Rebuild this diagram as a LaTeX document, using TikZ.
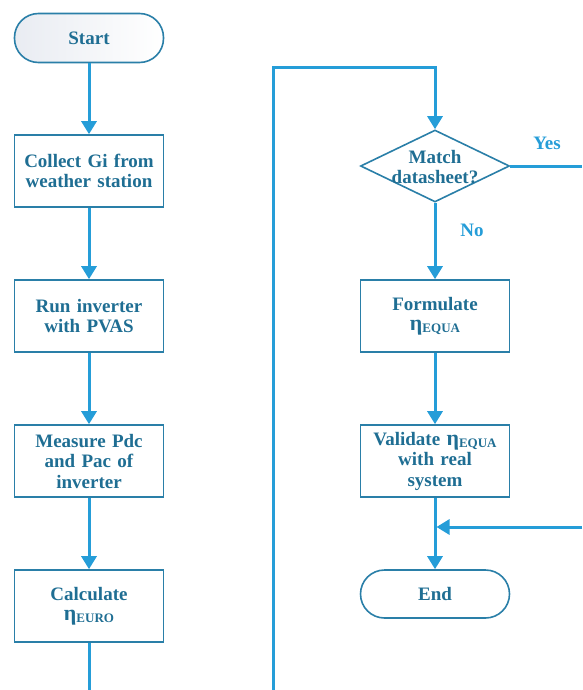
\documentclass[tikz,border=0pt]{standalone}
\usepackage{fontspec}
\setmainfont{Liberation Serif}
\usetikzlibrary{arrows.meta,shapes.geometric}
\definecolor{boxc}{HTML}{2A7FA8}
\definecolor{txtc}{HTML}{1F6E93}
\definecolor{linec}{HTML}{259DD8}
\definecolor{startfill}{HTML}{E9ECF2}
\newcommand{\etasub}[1]{{\fontsize{22}{22}\selectfont η}\raisebox{-2pt}{\fontsize{13}{13}\selectfont #1}}
\tikzset{
  base/.style={draw=boxc, line width=1.6pt, text=txtc, font=\fontsize{19}{20.5}\selectfont\bfseries, align=center, inner sep=0pt},
  procbox/.style={base, rectangle, minimum width=149pt, minimum height=72pt, text width=146pt},
  termbox/.style={base, rectangle, rounded corners=24pt, minimum width=149pt, minimum height=48pt},
  decbox/.style={base, diamond, aspect=2.07, minimum width=149pt, minimum height=72pt, inner sep=0pt},
  conn/.style={draw=linec, line width=3pt},
  arr/.style={conn, -{Triangle[width=15pt,length=13pt]}},
  lab/.style={text=linec, font=\fontsize{19}{20}\selectfont\bfseries}
}
\begin{document}
\begin{tikzpicture}[x=1pt,y=-1pt]
\useasboundingbox (0,0) rectangle (582,690);
\node[termbox, left color=startfill, right color=white, minimum height=49pt] (start) at (89,38) {Start};
\node[procbox] (collect) at (89,171) {Collect Gi from\\weather station};
\node[procbox] (run) at (89,316) {Run inverter\\with PVAS};
\node[procbox] (meas) at (89,461) {Measure Pdc\\and Pac of\\inverter};
\node[procbox] (calc) at (89,606) {Calculate\\\etasub{EURO}};
\coordinate (b1) at (89,690);
\coordinate (b2) at (273,690);
\coordinate (t1) at (273,68);
\coordinate (t2) at (435,68);
\node[decbox, fill=white] (match) at (435,166) {};
\node[base, draw=none] (matchtxt) at (435,167) {Match\\datasheet?};
\coordinate (yesend) at (582,166);
\node[procbox] (form) at (435,316) {Formulate\\\etasub{EQUA}};
\node[procbox, text width=146pt] (valid) at (435,461) {Validate \etasub{EQUA}\\with real\\system};
\node[termbox, fill=white] (end) at (435,594) {End};
\coordinate (rin) at (582,527);
\coordinate (rj) at (435,527);
\node[lab] (yes) at (547,143) {Yes};
\node[lab] (no) at (472,230) {No};

\draw[arr] (start) -- (collect);
\draw[arr] (collect) -- (run);
\draw[arr] (run) -- (meas);
\draw[arr] (meas) -- (calc);
\draw[conn] (calc) -- (b1);
\draw[arr] (b2) -- (t1) -- (t2) -- (match.north);
\draw[conn] (match.east) -- (yesend);
\draw[arr] (match.south) -- (form);
\draw[arr] (form) -- (valid);
\draw[arr] (valid) -- (end);
\draw[arr] (rin) -- ([xshift=1.5pt]rj);
\end{tikzpicture}
\end{document}
